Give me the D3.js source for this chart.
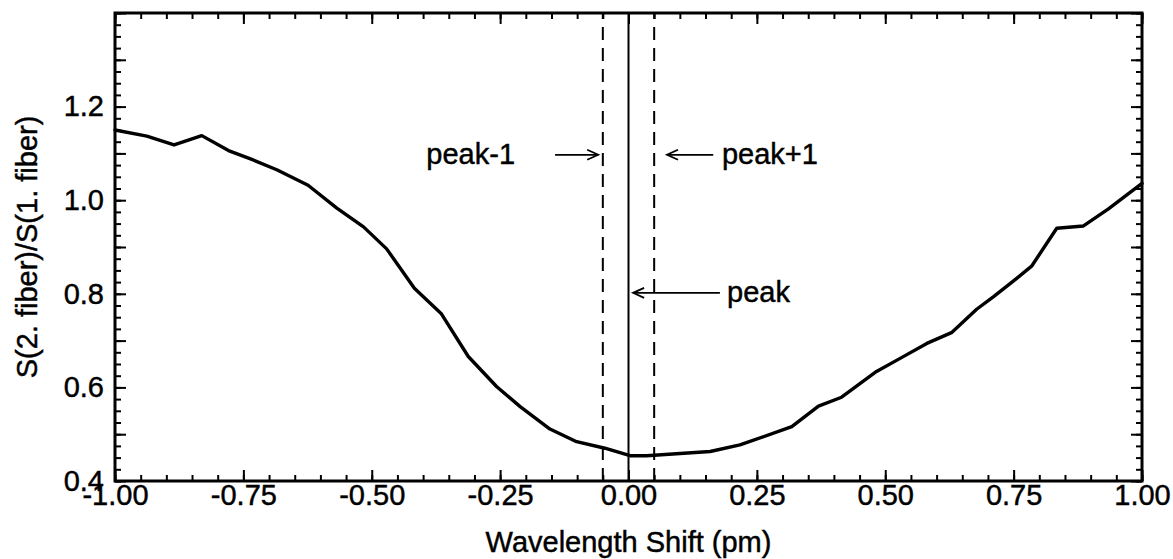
<!DOCTYPE html>
<html>
<head>
<meta charset="utf-8">
<script src="https://cdn.jsdelivr.net/npm/d3@7"></script>
<style>
  html, body { margin: 0; padding: 0; background: #fff; }
  svg { display: block; }
  text { font-family: "Liberation Sans", Arial, Helvetica, sans-serif; fill: #000; }
</style>
</head>
<body>
<svg id="chart" width="1173" height="559"></svg>
<script>
// ---- data ----
const shiftPm = [-1.0, -0.938, -0.885, -0.831, -0.779, -0.731, -0.685, -0.624, -0.568, -0.516,
  -0.471, -0.417, -0.365, -0.312, -0.257, -0.211, -0.153, -0.101, -0.046, 0.003,
  0.035, 0.159, 0.217, 0.318, 0.370, 0.415, 0.483, 0.529, 0.581, 0.629,
  0.678, 0.711, 0.756, 0.785, 0.834, 0.886, 0.934, 1.0];
const ratio = [1.150, 1.137, 1.118, 1.138, 1.106, 1.086, 1.065, 1.032, 0.983, 0.943,
  0.896, 0.812, 0.758, 0.666, 0.602, 0.559, 0.511, 0.484, 0.470, 0.454,
  0.454, 0.463, 0.477, 0.516, 0.560, 0.579, 0.634, 0.662, 0.694, 0.717,
  0.767, 0.794, 0.833, 0.859, 0.940, 0.945, 0.981, 1.036];

const xMajorTicks = [-1, -0.75, -0.5, -0.25, 0, 0.25, 0.5, 0.75, 1];
const yLabelTicks = [0.4, 0.6, 0.8, 1.0, 1.2];
const yMajorTicks = [0.4, 0.5, 0.6, 0.7, 0.8, 0.9, 1.0, 1.1, 1.2, 1.3, 1.4];

const solidLines = [0];
const dashedLines = [-0.05, 0.05];

const annLabels = ["peak-1", "peak+1", "peak"];
const annArrowFrom = [-0.143, 0.165, 0.178];
const annArrowTo = [-0.059, 0.075, 0.009];
const annY = [1.097, 1.097, 0.802];
const annTextX = [-0.221, 0.182, 0.192];
const annAnchor = ["end", "start", "start"];

const xTitle = "Wavelength Shift (pm)";
const yTitle = "S(2. fiber)/S(1. fiber)";

// ---- layout ----
const svg = d3.select("#chart");
const L = 115, R = 1142, T = 13, B = 481;
const FS = 29;
const x = d3.scaleLinear().domain([-1, 1]).range([L, R]);
const y = d3.scaleLinear().domain([0.4, 1.4]).range([B, T]);

const xMinor = d3.range(-20, 21).map(i => i * 0.05);
const yMinor = d3.range(16, 57).map(i => i * 0.025);

function styleText(sel) {
  sel.attr("font-size", FS).attr("fill", "#000")
    .attr("stroke", "#000").attr("stroke-width", 0.45)
    .attr("font-family", "'Liberation Sans', Arial, sans-serif");
}
function styleAxis(g) {
  g.select(".domain").remove();
  g.selectAll(".tick line").attr("stroke", "#000").attr("stroke-width", 2);
  g.selectAll(".tick text").call(styleText);
}

// bottom
svg.append("g").attr("transform", `translate(0,${B})`)
  .call(d3.axisBottom(x).tickValues(xMinor).tickSize(-6).tickFormat(""))
  .call(styleAxis);
svg.append("g").attr("transform", `translate(0,${B})`)
  .call(d3.axisBottom(x).tickValues(xMajorTicks).tickSize(-11).tickPadding(3)
    .tickFormat(d => d.toFixed(2)))
  .call(styleAxis);
// top
svg.append("g").attr("transform", `translate(0,${T})`)
  .call(d3.axisTop(x).tickValues(xMinor).tickSize(-6).tickFormat(""))
  .call(styleAxis);
svg.append("g").attr("transform", `translate(0,${T})`)
  .call(d3.axisTop(x).tickValues(xMajorTicks).tickSize(-11).tickFormat(""))
  .call(styleAxis);
// left
svg.append("g").attr("transform", `translate(${L},0)`)
  .call(d3.axisLeft(y).tickValues(yMinor).tickSize(-6).tickFormat(""))
  .call(styleAxis);
svg.append("g").attr("transform", `translate(${L},0)`)
  .call(d3.axisLeft(y).tickValues(yMajorTicks).tickSize(-11).tickFormat(""))
  .call(styleAxis);
svg.append("g").attr("transform", `translate(${L},0)`)
  .call(d3.axisLeft(y).tickValues(yLabelTicks).tickSize(0).tickPadding(11)
    .tickFormat(d => d.toFixed(1)))
  .call(styleAxis);
// right
svg.append("g").attr("transform", `translate(${R},0)`)
  .call(d3.axisRight(y).tickValues(yMinor).tickSize(-6).tickFormat(""))
  .call(styleAxis);
svg.append("g").attr("transform", `translate(${R},0)`)
  .call(d3.axisRight(y).tickValues(yMajorTicks).tickSize(-11).tickFormat(""))
  .call(styleAxis);

// frame
svg.append("rect").attr("x", L).attr("y", T).attr("width", R - L).attr("height", B - T)
  .attr("fill", "none").attr("stroke", "#000").attr("stroke-width", 3);

// vertical reference lines
svg.selectAll(".solidv").data(solidLines).enter().append("line")
  .attr("x1", d => x(d)).attr("x2", d => x(d)).attr("y1", y(0.4)).attr("y2", y(1.4))
  .attr("stroke", "#000").attr("stroke-width", 2);
svg.selectAll(".dashv").data(dashedLines).enter().append("line")
  .attr("x1", d => x(d)).attr("x2", d => x(d)).attr("y1", y(0.4)).attr("y2", y(1.4))
  .attr("stroke", "#000").attr("stroke-width", 2).attr("stroke-dasharray", "13,8");

// curve
const pts = shiftPm.map((d, i) => [d, ratio[i]]);
svg.append("path").datum(pts)
  .attr("d", d3.line().x(d => x(d[0])).y(d => y(d[1])))
  .attr("fill", "none").attr("stroke", "#000").attr("stroke-width", 3.4)
  .attr("stroke-linejoin", "round").attr("stroke-linecap", "round");

// annotations
annLabels.forEach((lab, i) => {
  const x1 = x(annArrowFrom[i]), x2 = x(annArrowTo[i]), yy = y(annY[i]);
  const dir = Math.sign(x2 - x1);
  svg.append("line").attr("x1", x1).attr("x2", x2).attr("y1", yy).attr("y2", yy)
    .attr("stroke", "#000").attr("stroke-width", 1.8);
  svg.append("path")
    .attr("d", `M${x2 - dir * 11},${yy - 5} L${x2},${yy} L${x2 - dir * 11},${yy + 5}`)
    .attr("fill", "none").attr("stroke", "#000").attr("stroke-width", 1.8);
  svg.append("text").attr("x", x(annTextX[i])).attr("y", yy).attr("dy", "0.32em")
    .attr("text-anchor", annAnchor[i]).call(styleText).text(lab);
});

// titles
svg.append("text").attr("x", (L + R) / 2).attr("y", 552).attr("text-anchor", "middle")
  .call(styleText).text(xTitle);
svg.append("text").attr("transform", `translate(37,${(T + B) / 2}) rotate(-90)`)
  .attr("text-anchor", "middle").call(styleText).text(yTitle);
</script>
</body>
</html>
